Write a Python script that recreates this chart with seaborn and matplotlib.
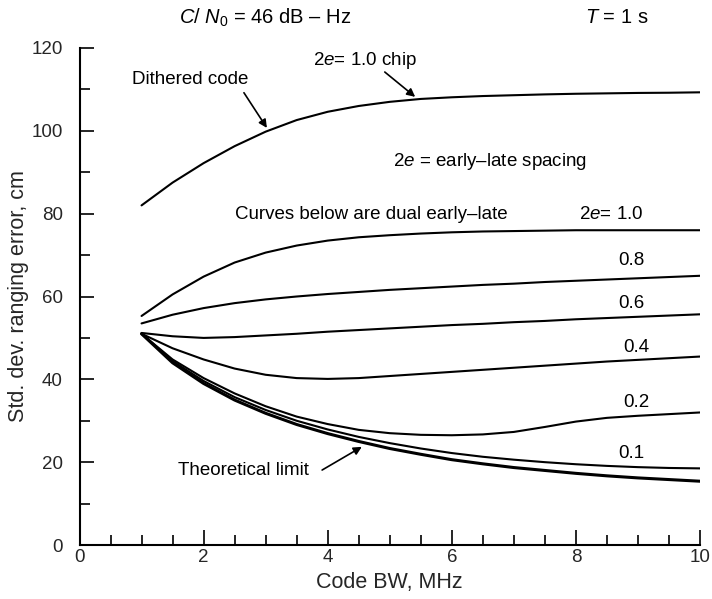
import matplotlib
matplotlib.use("Agg")
import matplotlib.pyplot as plt
import seaborn as sns
import pandas as pd

# ---- data ----
bw = [1, 1.5, 2, 2.5, 3, 3.5, 4, 4.5, 5, 5.5, 6, 6.5, 7, 7.5, 8, 8.5, 9, 9.5, 10]
dithered = [82, 87.5, 92.2, 96.3, 99.8, 102.6, 104.6, 106.0, 107.0, 107.7, 108.1, 108.4, 108.6, 108.8, 108.95, 109.05, 109.15, 109.2, 109.3]
dual_10 = [55.3, 60.5, 64.8, 68.2, 70.6, 72.3, 73.5, 74.3, 74.8, 75.2, 75.5, 75.7, 75.8, 75.9, 76, 76, 76, 76, 76]
dual_08 = [53.5, 55.6, 57.2, 58.4, 59.3, 60, 60.6, 61.1, 61.6, 62, 62.4, 62.8, 63.1, 63.5, 63.8, 64.1, 64.4, 64.7, 65]
dual_06 = [51.2, 50.4, 50.0, 50.2, 50.6, 51.0, 51.5, 51.9, 52.3, 52.7, 53.1, 53.4, 53.8, 54.1, 54.5, 54.8, 55.1, 55.4, 55.7]
dual_04 = [51, 47.5, 44.8, 42.6, 41.1, 40.3, 40.1, 40.3, 40.8, 41.3, 41.8, 42.3, 42.8, 43.3, 43.8, 44.3, 44.7, 45.1, 45.5]
dual_02 = [51, 44.8, 40.3, 36.6, 33.5, 31, 29.2, 27.8, 27, 26.6, 26.5, 26.7, 27.3, 28.5, 29.8, 30.7, 31.2, 31.6, 32]
dual_01 = [51, 44.4, 39.6, 35.7, 32.6, 30, 27.9, 26.1, 24.6, 23.3, 22.2, 21.3, 20.6, 20, 19.5, 19.1, 18.8, 18.6, 18.5]
theoretical = [51, 44, 39, 35, 31.8, 29.1, 26.9, 25, 23.3, 21.9, 20.6, 19.6, 18.7, 18, 17.3, 16.7, 16.2, 15.8, 15.4]

x_ticks = [0, 2, 4, 6, 8, 10]
y_ticks = [0, 20, 40, 60, 80, 100, 120]

series = {
    "dithered": (dithered, 1.5),
    "1.0": (dual_10, 1.5),
    "0.8": (dual_08, 1.5),
    "0.6": (dual_06, 1.5),
    "0.4": (dual_04, 1.5),
    "0.2": (dual_02, 1.5),
    "0.1": (dual_01, 1.5),
    "theoretical": (theoretical, 2.2),
}

# ---- style ----
sns.set_theme(style="ticks")
plt.rcParams["font.family"] = ["Liberation Sans", "DejaVu Sans"]
plt.rcParams["mathtext.fontset"] = "custom"
plt.rcParams["mathtext.rm"] = "Liberation Sans"
plt.rcParams["mathtext.it"] = "Liberation Sans:italic"

fig = plt.figure(figsize=(7.12, 5.99), dpi=100)
ax = fig.add_axes([79.5 / 712, 54 / 599, (700 - 79.5) / 712, (545 - 48) / 599])

for name, (vals, lw) in series.items():
    df = pd.DataFrame({"bw": bw, "err": vals})
    sns.lineplot(data=df, x="bw", y="err", ax=ax, color="black", linewidth=lw,
                 legend=False, sort=False, estimator=None)

ax.set_xlim(0, 10)
ax.set_ylim(0, 120)
ax.set_xticks(x_ticks)
ax.set_yticks(y_ticks)
ax.set_xticks([v / 2 for v in range(0, 21)], minor=True)
ax.set_yticks(list(range(0, 121, 10)), minor=True)
ax.tick_params(axis="both", which="both", direction="in", color="black", labelsize=13.5, width=1.2)
ax.tick_params(axis="x", which="major", length=11, pad=3)
ax.tick_params(axis="x", which="minor", length=7)
ax.tick_params(axis="y", which="major", length=10, pad=12)
ax.tick_params(axis="y", which="minor", length=7)
sns.despine(ax=ax)
for sp in ("left", "bottom"):
    ax.spines[sp].set_linewidth(1.5)
    ax.spines[sp].set_color("black")
ax.set_facecolor("white")

ax.set_xlabel("Code BW, MHz", fontsize=15.5, labelpad=4)
ax.set_ylabel("Std. dev. ranging error, cm", fontsize=15.5, labelpad=2)

fs = 13.5
kw = dict(fontsize=fs, color="black", clip_on=False)
ax.text(2.99, 127.3, "$C$/ $N_0$ = 46 dB \u2013 Hz", ha="center", va="center",
        fontsize=14.5, color="black", clip_on=False)
ax.text(8.66, 127.3, "$T$ = 1 s", ha="center", va="center",
        fontsize=14.5, color="black", clip_on=False)
ax.text(6.62, 92.5, "2$e$ = early\u2013late spacing", ha="center", va="center", **kw)
ax.text(4.71, 79.7, "Curves below are dual early\u2013late", ha="center", va="center", **kw)
ax.text(8.57, 79.7, "2$e$= 1.0", ha="center", va="center", **kw)
for lbl, (xx, yy) in {"0.8": (8.9, 68.6), "0.6": (8.9, 58.2), "0.4": (8.98, 47.6),
                      "0.2": (8.98, 34.3), "0.1": (8.9, 22.0)}.items():
    ax.text(xx, yy, lbl, ha="center", va="center", **kw)

arrow = dict(arrowstyle="-|>", color="black", lw=1.2, mutation_scale=12, shrinkA=0, shrinkB=0)
ax.text(4.6, 117.1, "2$e$= 1.0 chip", ha="center", va="center", **kw)
ax.annotate("", xy=(5.41, 108.2), xytext=(4.92, 114.2), arrowprops=arrow)
ax.text(1.78, 112.3, "Dithered code", ha="center", va="center", **kw)
ax.annotate("", xy=(3.02, 100.7), xytext=(2.65, 109.2), arrowprops=arrow)
ax.text(2.65, 17.9, "Theoretical limit", ha="center", va="center", **kw)
ax.annotate("", xy=(4.55, 23.7), xytext=(3.91, 18.1), arrowprops=arrow)

fig.savefig("out.png", dpi=100, facecolor="white")
